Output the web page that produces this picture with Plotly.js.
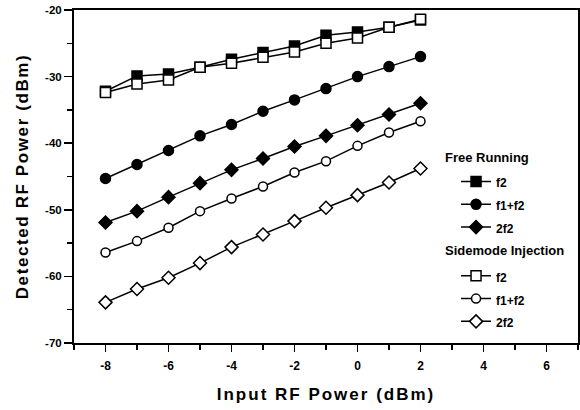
<!DOCTYPE html>
<html>
<head>
<meta charset="utf-8">
<script src="https://cdn.plot.ly/plotly-3.0.1.min.js"></script>
<style>
  html, body { margin: 0; padding: 0; background: #fff; }
  #chart { width: 580px; height: 410px; }
  .xtitle { letter-spacing: 2px; }
  .ytitle { letter-spacing: 1.6px; }
</style>
</head>
<body>
<div id="chart"></div>
<script>
// Input RF power (dBm)
const inputPower = [-8, -7, -6, -5, -4, -3, -2, -1, 0, 1, 2];

// Free running laser: detected power (dBm)
const freeF2   = [-32.2, -29.9, -29.6, -28.6, -27.4, -26.4, -25.4, -23.8, -23.3, -22.6, -21.5];
const freeF1F2 = [-45.3, -43.2, -41.1, -38.9, -37.2, -35.2, -33.5, -31.8, -30.0, -28.5, -27.0];
const free2F2  = [-51.9, -50.2, -48.1, -46.0, -44.0, -42.3, -40.5, -38.9, -37.3, -35.7, -34.0];

// Sidemode injection: detected power (dBm)
const sideF2   = [-32.4, -31.1, -30.5, -28.6, -28.0, -27.1, -26.3, -25.0, -24.2, -22.6, -21.4];
const sideF1F2 = [-56.4, -54.7, -52.7, -50.2, -48.3, -46.5, -44.4, -42.7, -40.4, -38.4, -36.7];
const side2F2  = [-63.9, -61.9, -60.2, -58.0, -55.6, -53.7, -51.7, -49.7, -47.8, -45.9, -43.8];

const seriesNames = ['f2', 'f1+f2', '2f2'];
const groupTitles = ['Free Running', 'Sidemode Injection'];

// Tick labels written with a plain hyphen
const xTickVals = [-8, -6, -4, -2, 0, 2, 4, 6];
const xTickText = ['-8', '-6', '-4', '-2', '0', '2', '4', '6'];
const yTickVals = [-70, -60, -50, -40, -30, -20];
const yTickText = ['-70', '-60', '-50', '-40', '-30', '-20'];

const FONT = 'Liberation Sans, Arial, sans-serif';

function series(y, name, group, symbol, filled, size) {
  return {
    x: inputPower, y: y, type: 'scatter', mode: 'lines+markers',
    name: '<span style="font-size:12px">' + name + '</span>',
    legendgroup: group,
    line: { color: '#000', width: 1.5 },
    marker: {
      symbol: symbol, size: size,
      color: filled ? '#000' : '#fff',
      line: { color: '#000', width: 1.5 }
    }
  };
}

const traces = [
  series(freeF2,   seriesNames[0], 'free', 'square',  true,  10),
  series(freeF1F2, seriesNames[1], 'free', 'circle',  true,  10),
  series(free2F2,  seriesNames[2], 'free', 'diamond', true,  10),
  series(sideF2,   seriesNames[0], 'side', 'square',  false, 10),
  series(sideF1F2, seriesNames[1], 'side', 'circle',  false, 9),
  series(side2F2,  seriesNames[2], 'side', 'diamond', false, 10)
];

// group headings placed above each block of legend entries
const headingFont = { family: FONT, size: 13, color: '#000', weight: 'bold' };
const headings = [
  { text: groupTitles[0], x: 0.732, y: 0.5556 },
  { text: groupTitles[1], x: 0.732, y: 0.2763 }
].map(h => ({
  text: h.text, x: h.x, y: h.y, xref: 'paper', yref: 'paper',
  xanchor: 'left', yanchor: 'middle', showarrow: false, font: headingFont
}));

const layout = {
  width: 580, height: 410,
  margin: { l: 74, r: 2, t: 10, b: 67 },
  paper_bgcolor: '#fff', plot_bgcolor: '#fff',
  showlegend: true,
  legend: {
    x: 0.758, y: 0.534, xanchor: 'left', yanchor: 'top',
    bgcolor: 'rgba(0,0,0,0)', borderwidth: 0,
    font: { family: FONT, size: 15.2, color: '#000', weight: 'bold' },
    traceorder: 'grouped', tracegroupgap: 26, itemwidth: 30
  },
  annotations: headings,
  xaxis: {
    range: [-9, 7], tickmode: 'array', tickvals: xTickVals, ticktext: xTickText,
    showgrid: false, zeroline: false,
    showline: true, linecolor: '#000', linewidth: 2, mirror: true,
    ticks: 'outside', ticklen: 7, tickwidth: 1.5, tickcolor: '#000',
    minor: { tickmode: 'linear', tick0: 0, dtick: 1, ticks: 'outside', ticklen: 5, tickwidth: 1.5, tickcolor: '#000', showgrid: false },
    ticklabelstandoff: 4,
    tickfont: { family: FONT, size: 12, color: '#000', weight: 'bold' },
    title: { text: 'Input RF Power (dBm)', font: { family: FONT, size: 17, color: '#000', weight: 'bold' }, standoff: 16 }
  },
  yaxis: {
    range: [-70, -20], tickmode: 'array', tickvals: yTickVals, ticktext: yTickText,
    showgrid: false, zeroline: false,
    showline: true, linecolor: '#000', linewidth: 2, mirror: true,
    ticks: 'outside', ticklen: 8, tickwidth: 1.5, tickcolor: '#000',
    minor: { tickmode: 'linear', tick0: 0, dtick: 5, ticks: 'outside', ticklen: 5, tickwidth: 1.5, tickcolor: '#000', showgrid: false },
    tickfont: { family: FONT, size: 11.5, color: '#000', weight: 'bold' },
    title: { text: 'Detected RF Power (dBm)', font: { family: FONT, size: 17, color: '#000', weight: 'bold' }, standoff: 12 }
  },
  // inward ticks along the top and right frame edges
  xaxis2: {
    overlaying: 'x', side: 'top', range: [-9, 7], tickmode: 'linear', tick0: 0, dtick: 1,
    showgrid: false, zeroline: false, showline: false, showticklabels: false,
    ticks: 'inside', ticklen: 5, tickwidth: 1.5, tickcolor: '#000'
  },
  yaxis2: {
    overlaying: 'y', side: 'right', range: [-70, -20], tickmode: 'linear', tick0: 0, dtick: 5,
    showgrid: false, zeroline: false, showline: false, showticklabels: false,
    ticks: 'inside', ticklen: 5, tickwidth: 1.5, tickcolor: '#000'
  }
};

Plotly.newPlot('chart', traces, layout, { displayModeBar: false, staticPlot: true });
</script>
</body>
</html>
